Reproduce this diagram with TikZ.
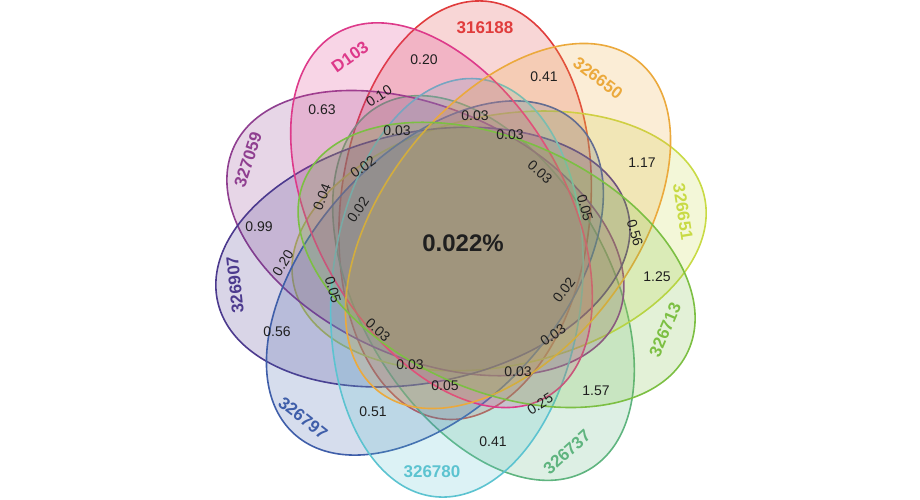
\documentclass[tikz,border=0pt]{standalone}
\usepackage{fontspec}
\setmainfont{Liberation Sans}
\usepackage{tikz}
\usetikzlibrary{positioning}

\definecolor{cA}{HTML}{E03C3C}% 316188
\definecolor{cB}{HTML}{EBA93C}% 326650
\definecolor{cC}{HTML}{C8DA45}% 326651
\definecolor{cD}{HTML}{7CBF43}% 326713
\definecolor{cE}{HTML}{5FB47F}% 326737
\definecolor{cF}{HTML}{5CC3D0}% 326780
\definecolor{cG}{HTML}{3F5EA9}% 326797
\definecolor{cH}{HTML}{4C3A8E}% 326907
\definecolor{cI}{HTML}{8F3F90}% 327059
\definecolor{cJ}{HTML}{DD3A8A}% D103

\tikzset{
  petal/.style={line width=1.6pt, draw=#1, fill=#1, fill opacity=0.21, draw opacity=1},
  setname/.style={font=\bfseries\fontsize{17}{17}\selectfont, text=#1, inner sep=0pt},
  share/.style={font=\fontsize{14}{14}\selectfont, text=black!88, inner sep=0pt},
}

% colour, centre x, centre y, angle
\newcommand{\petalat}[4]{%
  \filldraw[petal=#1, rotate around={#4:(#2,#3)}] (#2,#3) ellipse [x radius=210pt, y radius=125pt];}

\begin{document}
\begin{tikzpicture}[x=1pt,y=1pt]
  \useasboundingbox (0,0) rectangle (920,-500);

  % sets
  \petalat{cA}{465.1}{-210.2}{84}
  \petalat{cE}{483.5}{-288}{-60}
  \petalat{cC}{499.1}{-240.9}{12}
  \petalat{cI}{425.4}{-233.1}{156}
  \petalat{cH}{422.9}{-257.1}{-168}
  \petalat{cG}{434.9}{-278}{-132}
  \petalat{cF}{456.9}{-287.8}{-96}
  \petalat{cJ}{441.5}{-215.2}{120}
  \petalat{cB}{508}{-226}{52}
  \petalat{cD}{496.6}{-264.9}{-24}

  % set names
  \node (n316188) [setname=cA]             at (485,-28)  {316188};
  \node (n326650) [setname=cB, rotate=-37] at (598,-78)  {326650};
  \node (n326651) [setname=cC, rotate=-81] at (683,-212) {326651};
  \node (n326713) [setname=cD, rotate=67]  at (665,-330) {326713};
  \node (n326737) [setname=cE, rotate=42]  at (567,-452) {326737};
  \node (n326780) [setname=cF]             at (432,-472) {326780};
  \node (n326797) [setname=cG, rotate=-38] at (303,-418) {326797};
  \node (n326907) [setname=cH, rotate=96]  at (235,-285) {326907};
  \node (n327059) [setname=cI, rotate=72]  at (248,-160) {327059};
  \node (nD103)   [setname=cJ, rotate=35]  at (350,-57)  {D103};

  % shares
  \node (all) [font=\bfseries\fontsize{24}{24}\selectfont, text=black!88] at (463,-243) {0.022\%};
  \node (v01) [share]            at (424,-60)  {0.20};
  \node (v02) [share]            at (544,-77)  {0.41};
  \node (v03) [share]            at (322,-110) {0.63};
  \node (v04) [share, rotate=33] at (379,-96)  {0.10};
  \node (v05) [share]            at (397,-131) {0.03};
  \node (v06) [share]            at (475,-116) {0.03};
  \node (v07) [share]            at (510,-135) {0.03};
  \node (v08) [share]            at (642,-163) {1.17};
  \node (v09) [share]            at (259,-227) {0.99};
  \node (v10) [share, rotate=35] at (363,-167) {0.02};
  \node (v11) [share, rotate=69] at (322,-197) {0.04};
  \node (v12) [share, rotate=56] at (358,-210) {0.02};
  \node (v13) [share, rotate=-42] at (540,-172) {0.03};
  \node (v14) [share, rotate=-74] at (585,-208) {0.05};
  \node (v15) [share, rotate=-74] at (635,-233) {0.56};
  \node (v16) [share]            at (657,-277) {1.25};
  \node (v17) [share, rotate=58] at (283,-263) {0.20};
  \node (v18) [share, rotate=-74] at (333,-290) {0.05};
  \node (v19) [share, rotate=53] at (564,-290) {0.02};
  \node (v20) [share]            at (277,-332) {0.56};
  \node (v21) [share, rotate=-42] at (378,-330) {0.03};
  \node (v22) [share, rotate=35] at (553,-335) {0.03};
  \node (v23) [share]            at (410,-365) {0.03};
  \node (v24) [share]            at (445,-386) {0.05};
  \node (v25) [share]            at (518,-372) {0.03};
  \node (v26) [share, rotate=32] at (540,-404) {0.25};
  \node (v27) [share]            at (596,-391) {1.57};
  \node (v28) [share]            at (373,-412) {0.51};
  \node (v29) [share]            at (493,-442) {0.41};
\end{tikzpicture}
\end{document}
